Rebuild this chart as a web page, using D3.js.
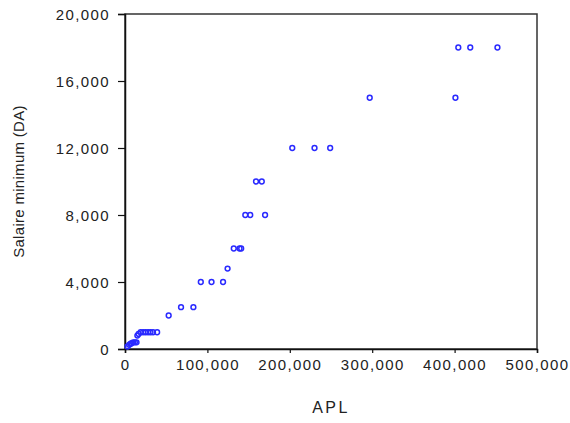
<!DOCTYPE html>
<html>
<head>
<meta charset="utf-8">
<script src="https://cdn.jsdelivr.net/npm/d3@7"></script>
<style>
  body { margin: 0; background: #fff; }
  text { font-family: "Liberation Sans", Arial, sans-serif; fill: #222; }
</style>
</head>
<body>
<div id="chart"></div>
<script>
// scatter: APL vs salaire minimum
const aplValues = [
  3000, 5000, 6500, 8000, 10000, 12000, 14000,
  15000, 16500,
  19000, 22000, 25000, 28000, 31000, 34000, 39000,
  53000, 68000, 83000,
  92000, 105000, 119000, 124500,
  132000, 139000, 141000,
  146000, 152000, 170000,
  159000, 166000,
  203000, 230000, 249000,
  297000, 401000,
  404500, 419000, 452000
];
const salaireValues = [
  150, 250, 300, 350, 400, 400, 400,
  800, 900,
  1000, 1000, 1000, 1000, 1000, 1000, 1000,
  2000, 2500, 2500,
  4000, 4000, 4000, 4800,
  6000, 6000, 6000,
  8000, 8000, 8000,
  10000, 10000,
  12000, 12000, 12000,
  15000, 15000,
  18000, 18000, 18000
];
const xTicks = [0, 100000, 200000, 300000, 400000, 500000];
const yTicks = [0, 4000, 8000, 12000, 16000, 20000];

const width = 570, height = 423;
const margin = { top: 14, right: 33, bottom: 74, left: 125 };
const innerWidth = width - margin.left - margin.right;
const innerHeight = height - margin.top - margin.bottom;

const data = aplValues.map((a, i) => ({ apl: a, salaire: salaireValues[i] }));

const svg = d3.select("#chart")
  .append("svg")
  .attr("width", width)
  .attr("height", height);

const innerChart = svg.append("g")
  .attr("transform", `translate(${margin.left}, ${margin.top})`);

const xScale = d3.scaleLinear().domain([0, 500000]).range([0, innerWidth]);
const yScale = d3.scaleLinear().domain([0, 20000]).range([innerHeight, 0]);

// frame
innerChart.append("rect")
  .attr("width", innerWidth)
  .attr("height", innerHeight)
  .attr("fill", "none")
  .attr("stroke", "#333")
  .attr("stroke-width", 1.5);

// axes
const fmt = d3.format(",");
const xAxis = innerChart.append("g")
  .attr("transform", `translate(0, ${innerHeight})`)
  .call(d3.axisBottom(xScale).tickValues(xTicks).tickFormat(fmt).tickSize(4).tickPadding(6));
const yAxis = innerChart.append("g")
  .call(d3.axisLeft(yScale).tickValues(yTicks).tickFormat(fmt).tickSize(7).tickPadding(8));

[xAxis, yAxis].forEach(ax => {
  ax.select(".domain").attr("stroke", "#111").attr("stroke-width", 1.5);
  ax.selectAll(".tick line").attr("stroke", "#111").attr("stroke-width", 1.2);
  ax.selectAll("text")
    .style("font-family", "'Liberation Sans', Arial, sans-serif")
    .style("font-size", "15px")
    .style("letter-spacing", "1.4px")
    .attr("fill", "#222");
});
yAxis.selectAll("text").attr("dy", "0.35em");

// points
innerChart.selectAll("circle")
  .data(data)
  .join("circle")
  .attr("cx", d => xScale(d.apl))
  .attr("cy", d => yScale(d.salaire))
  .attr("r", 2.4)
  .attr("fill", "none")
  .attr("stroke", "#2a2aff")
  .attr("stroke-width", 1.5);

// labels
svg.append("text")
  .text("APL")
  .attr("x", margin.left + innerWidth / 2)
  .attr("y", 413)
  .attr("text-anchor", "middle")
  .style("font-size", "16px")
  .style("letter-spacing", "2.5px");

svg.append("text")
  .text("Salaire minimum (DA)")
  .attr("transform", `translate(24, ${margin.top + innerHeight / 2}) rotate(-90)`)
  .attr("text-anchor", "middle")
  .style("font-size", "15px")
  .style("letter-spacing", "0.3px");
</script>
</body>
</html>
